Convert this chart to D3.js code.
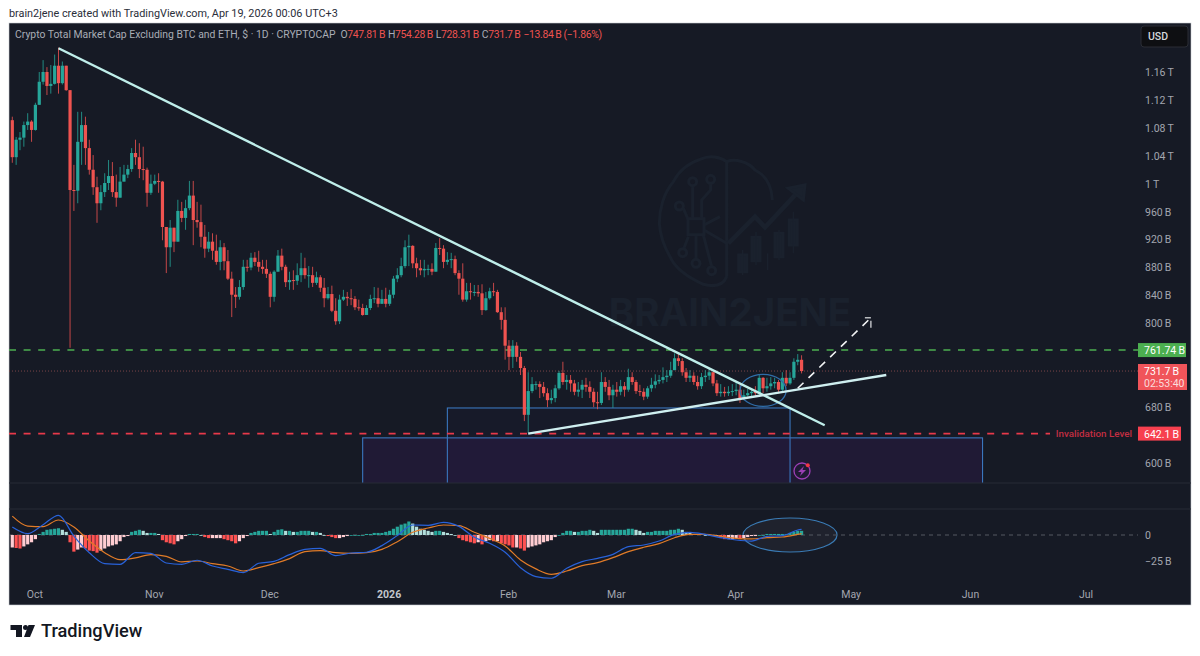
<!DOCTYPE html>
<html>
<head>
<meta charset="utf-8">
<script src="https://cdn.jsdelivr.net/npm/d3@7"></script>
<style>
  html, body { margin: 0; padding: 0; background: #fff; overflow: hidden; }
  text { font-family: Roboto, "Open Sans", sans-serif; }
  .axis path, .axis line { display: none; }
  .axis text { fill: #a3a6af; font-size: 10.5px; font-family: Roboto, sans-serif; }
</style>
</head>
<body>
<div id="chart"></div>
<script>
// daily candles from 25 Sep 2025 to 18 Apr 2026, in billions of USD
var firstDay = "2025-09-25";
var opens = [
 1091,1038,1063,1066,1084,1089,1077,1113,1146,1160,
 1140,1143,1169,1144,1169,1134,991,990,1060,1084,
 1051,1020,995,972,988,1001,1011,988,980,1003,
 1013,1021,1044,1038,1021,1020,987,1000,1004,1003,
 938,909,937,917,961,951,965,983,948,945,
 924,907,917,904,888,909,889,864,841,838,
 852,881,880,894,888,881,878,871,838,874,
 897,881,859,862,861,869,879,869,869,858,
 866,851,836,842,818,803,834,838,836,835,
 823,822,812,822,835,836,828,835,828,841,
 864,869,882,909,911,886,879,876,878,878,
 874,908,907,888,891,892,872,864,834,846,
 845,845,843,819,836,846,845,816,805,768,
 752,768,752,736,669,703,713,713,709,700,
 690,693,707,729,716,719,714,702,705,712,
 709,702,687,686,716,709,697,705,702,710,
 705,723,716,703,702,695,707,712,717,719,
 723,725,733,750,746,730,722,725,716,710,
 723,725,730,714,700,702,700,702,703,705,
 693,697,700,702,700,722,707,710,714,716,
 705,722,714,722,745,747.81];
var highs = [
 1096,1067,1074,1089,1101,1091,1116,1160,1177,1167,
 1170,1185,1195,1175,1169,1134,1027,1103,1103,1096,
 1063,1041,1010,998,1015,1034,1031,1013,1024,1027,
 1027,1051,1063,1058,1053,1023,1013,1013,1015,1004,
 927,948,937,977,974,977,1004,1004,974,970,
 941,931,929,927,919,915,905,874,852,862,
 891,891,901,902,904,891,891,874,876,905,
 907,884,874,876,886,901,894,882,881,874,
 869,865,852,854,836,841,848,845,849,839,
 834,828,826,841,852,851,848,851,848,868,
 879,894,919,927,912,894,891,891,884,886,
 915,922,912,902,901,897,876,886,858,858,
 855,855,856,845,851,858,848,823,823,776,
 776,773,759,739,730,723,717,717,716,707,
 705,712,732,745,726,726,719,716,719,722,
 717,707,702,730,723,719,712,716,719,716,
 735,730,719,712,707,710,722,727,726,737,
 733,745,757,757,750,736,733,730,725,729,
 733,736,730,719,713,709,710,713,716,712,
 705,706,707,710,726,723,722,723,722,719,
 730,733,730,750,756,754.28];
var lows = [
 1030,1027,1048,1053,1077,1060,1076,1113,1142,1127,
 1129,1142,1129,1142,1133,765,961,972,1027,1027,
 1013,984,944,962,981,991,981,967,980,1003,
 1008,1017,1027,1008,1005,967,984,998,987,919,
 872,881,902,917,945,934,962,912,937,909,
 894,902,891,884,876,876,862,809,822,834,
 848,874,876,882,874,871,865,823,831,874,
 876,852,848,848,855,859,864,851,852,855,
 845,823,834,816,798,799,832,825,826,819,
 818,811,812,819,829,823,828,823,825,836,
 859,866,879,882,879,866,869,866,869,869,
 874,898,879,884,879,869,841,831,831,834,
 839,838,812,818,834,839,815,791,748,733,
 736,745,726,660,643,700,705,693,695,680,
 685,687,705,712,705,702,697,695,693,702,
 693,680,677,683,702,690,679,695,697,695,
 702,712,699,696,690,692,702,707,713,714,
 716,722,733,739,725,716,716,712,705,706,
 716,719,710,696,695,695,696,696,697,686,
 690,695,696,696,695,700,702,705,707,700,
 702,710,712,719,740,728.31];
var closes = [
 1038,1063,1066,1084,1089,1077,1113,1146,1160,1140,
 1143,1169,1144,1169,1134,991,990,1060,1084,1051,
 1020,995,972,988,1001,1011,988,980,1003,1013,
 1021,1044,1038,1021,1020,987,1000,1004,1003,938,
 909,937,917,961,951,965,983,948,945,924,
 907,917,904,888,909,889,864,841,838,852,
 881,880,894,888,881,878,871,838,874,897,
 881,859,862,861,869,879,869,869,858,866,
 851,836,842,818,803,834,838,836,835,823,
 822,812,822,835,836,828,835,828,841,864,
 869,882,909,911,886,879,876,878,878,874,
 908,907,888,891,892,872,864,834,846,845,
 845,843,819,836,846,845,816,805,768,752,
 768,752,736,669,703,713,713,709,700,690,
 693,707,729,716,719,714,702,705,712,709,
 702,687,686,716,709,697,705,702,710,705,
 723,716,703,702,695,707,712,717,719,723,
 725,733,750,746,730,722,725,716,710,723,
 725,730,714,700,702,700,702,703,705,693,
 697,700,702,700,722,707,710,714,716,705,
 722,714,722,745,747.81,731.7];

// MACD histogram, one bar per candle
var macdHist = [
 -12,-12.5,-13,-11,-9,-7,-4,1,3,5,
 5.5,6,6.5,5,3,-7,-16,-14,-12,-13,
 -15,-15.5,-17,-15,-13,-11,-10,-9,-6,-2,
 -1,3,4,5,4,2,2,2,1,-5,
 -7,-8,-9,-6,-4,-1,1,1,1,0,
 -2,-3,-3,-3,-3,-4,-5,-6,-8,-6,
 -3,-1,2,3,4,4,4,1,3,5,
 5.5,4,4,3,3,4,4,4,3,3,
 2,0,-1,-2,-3,-3,-2,-1,0,0,
 0,0,1,1,2,2,2,3,4,6,
 8,10,11,13,11,8,6,5,4,3,
 4,4,3,2,1,0,-3,-5,-6,-7,
 -8,-7,-9,-6,-5,-6,-6,-8,-9,-10,
 -12,-12,-13,-15,-12,-11,-10,-9,-7,-6,
 -5,-2,0,2,4,4,3,3,4,4,
 5,4,2,5,5,5,5,5,5,5,
 6,6,5,4,2,3,3,4,4,4,
 4,5,5,6,5,3,2,1,1,1,
 0,0,-1,-1,-3,-4,-4,-4,-3,-4,
 -3,-2,-1,-1,0,0,1,1,1,1,
 1,1,2,3,4,4];

// MACD and signal lines, read every fourth candle and at the last one
var macdAt = d3.range(0, 205, 4).concat(205);
var macdLine = [
 7.7,1.3,9.9,18.9,-1,-17,-27.5,-28.2,-17,-17.6,-26.9,-28.2,-24.3,-29.8,-33,-36.2,-27.2,-25.3,-18.9,
 -13.8,-12.8,-19.8,-17.3,-16.6,-10.2,-0.6,9.6,9.3,12.2,8.3,-2.2,-8,-16.6,-31.4,-40,-41.6,-32,
 -25.6,-22.4,-18.6,-11.2,-9.6,-5.8,0.6,2.6,0.6,-2.6,-4.8,-5.8,-1.3,-0.6,4.8,5.4];
var signalLine = [
 18.2,8.6,8,14.4,7.7,-5.8,-17,-23.7,-22,-18.9,-20.5,-25.9,-25,-27.5,-29.8,-34.6,-31.4,-27.5,-22.7,
 -16,-15,-17,-17.6,-17,-13.8,-6.4,2.6,6.7,9.6,9,2.6,-3.2,-10.6,-24,-32.6,-37.8,-34.6,
 -29.4,-26.6,-21.8,-16,-11.8,-8.3,-2.6,0.6,0.6,-1.3,-3.2,-3.8,-2.6,-1.9,0.6,1.3];

var priceTicks = [600,680,800,840,880,920,960,1000,1040,1080,1120,1160];
var macdTicks = [0,-25];
var monthTicks = ["2025-10-01","2025-11-01","2025-12-01","2026-01-01","2026-02-01","2026-03-01","2026-04-01","2026-05-01","2026-06-01","2026-07-01"];
var monthNames = ["Oct","Nov","Dec","2026","Feb","Mar","Apr","May","Jun","Jul"];

// drawings on the chart, as [date, price]
var trendDown = [["2025-10-07",1194],["2026-04-24",654]];
var trendUp = [["2026-02-06",642],["2026-05-10",726]];
var arrowPath = [["2026-04-17",707],["2026-05-06",808]];
var boxUpper = {from:"2026-01-16", to:"2026-04-15", top:678.8};
var boxLower = {from:"2025-12-25", to:"2026-06-04", top:636};
var resistance = 761.74;
var invalidation = 642.1;
var lastClose = 731.7;

var width = 1200, height = 656;
var left = 9, right = 1138, top_ = 23, priceBottom = 483, macdTop = 509, macdBottom = 583, frameRight = 1191, frameBottom = 605;

var parse = d3.utcParse("%Y-%m-%d");
var x = d3.scaleUtc().domain([parse("2025-10-01"), parse("2026-07-01")]).range([35.4, 1086.5]);
var y = d3.scaleLinear().domain([600, 1160]).range([463, 72]);
var yMacd = d3.scaleLinear().domain([0, -25]).range([535, 561]);

var start = parse(firstDay);
var candles = closes.map(function (c, i) {
	return { date: d3.utcDay.offset(start, i), o: opens[i], h: highs[i], l: lows[i], c: c };
});
function dayX(i) { return x(d3.utcDay.offset(start, i)); }

var svg = d3.select("#chart").append("svg")
	.attr("width", width).attr("height", height)
	.style("display", "block");

var defs = svg.append("defs");
defs.append("clipPath").attr("id", "priceClip").append("rect")
	.attr("x", left).attr("y", top_).attr("width", right - left).attr("height", priceBottom - top_);
defs.append("clipPath").attr("id", "macdClip").append("rect")
	.attr("x", left).attr("y", macdTop).attr("width", right - left).attr("height", macdBottom - macdTop);

svg.append("rect").attr("x", left).attr("y", top_).attr("width", frameRight - left).attr("height", frameBottom - top_)
	.attr("fill", "#161a25").attr("stroke", "#c9ccd2").attr("stroke-width", 0.6);

// header above the chart
svg.append("text").attr("x", 9).attr("y", 17).attr("fill", "#2a2e39").attr("font-size", 10.85)
	.text("brain2jene created with TradingView.com, Apr 19, 2026 00:06 UTC+3");

// watermark logo behind everything
var logoColor = "#1a212d";
var logo = svg.append("g").attr("transform", "translate(620,150) scale(0.3333)")
	.attr("fill", "none").attr("stroke", logoColor).attr("stroke-width", 9);
logo.append("path").attr("d", "M320,380 L320,35 C300,20 270,15 240,28 C205,40 175,65 160,95 C130,130 118,180 118,220 C120,250 130,285 150,320 C165,355 210,385 250,403 C285,412 310,405 320,380 M320,35 C345,25 385,35 405,60 C435,75 455,105 457,150 M218,107 L218,205 M272,100 L272,120 L245,150 L245,205 M190,175 L205,210 M205,260 L190,300 M228,255 L228,328 M250,255 L275,350 M252,225 L300,200 M252,240 L320,280");
logo.selectAll("circle.node").data([[218,95],[272,88],[178,168],[188,308],[228,340],[275,362]]).enter().append("circle")
	.attr("cx", function (d) { return d[0]; }).attr("cy", function (d) { return d[1]; }).attr("r", 12);
logo.append("rect").attr("x", 204).attr("y", 206).attr("width", 48).attr("height", 48);
logo.append("path").attr("stroke-width", 14).attr("d", "M325,280 L405,200 L435,232 L530,130");
logo.append("path").attr("fill", logoColor).attr("d", "M505,115 L555,105 L550,150 Z");
logo.selectAll("rect.bar").data([[368,315,50,300,375],[408,262,70,245,345],[477,250,70,240,330],[520,210,75,185,310]]).enter().append("g")
	.each(function (d) {
		d3.select(this).append("rect").attr("x", d[0] - 12).attr("y", d[1]).attr("width", 24).attr("height", d[2]).attr("fill", logoColor);
		d3.select(this).append("line").attr("x1", d[0]).attr("x2", d[0]).attr("y1", d[3]).attr("y2", d[4]).attr("stroke-width", 4);
	});
logo.append("line").attr("x1", 443).attr("x2", 443).attr("y1", 310).attr("y2", 360).attr("stroke-width", 4);
svg.append("text").attr("x", 730).attr("y", 326).attr("text-anchor", "middle")
	.attr("fill", logoColor).attr("font-size", 38.5).attr("font-weight", 700)
	.style("font-family", "Inter, Roboto, sans-serif").text("BRAIN2JENE");

var price = svg.append("g").attr("clip-path", "url(#priceClip)");

// purple zones, both run on below the bottom of the pane
[boxLower, boxUpper].forEach(function (b, k) {
	price.append("rect")
		.attr("x", x(parse(b.from))).attr("y", y(b.top))
		.attr("width", x(parse(b.to)) - x(parse(b.from))).attr("height", priceBottom + 20 - y(b.top))
		.attr("fill", k == 0 ? "#4a1f78" : "#3a2a70").attr("fill-opacity", k == 0 ? 0.2 : 0.06)
		.attr("stroke", "#3a76bd").attr("stroke-width", 1.1);
});

// horizontal levels
price.append("line").attr("x1", left).attr("x2", right).attr("y1", y(lastClose)).attr("y2", y(lastClose))
	.attr("stroke", "#7a4548").attr("stroke-dasharray", "1 2");
price.append("line").attr("x1", left).attr("x2", right).attr("y1", y(resistance)).attr("y2", y(resistance))
	.attr("stroke", "#4caf50").attr("stroke-width", 1.4).attr("stroke-dasharray", "7 7.6");
price.append("line").attr("x1", left).attr("x2", 1050).attr("y1", y(invalidation)).attr("y2", y(invalidation))
	.attr("stroke", "#e8394a").attr("stroke-width", 1.6).attr("stroke-dasharray", "7 7.6");

function colorOf(d) { return d.c >= d.o ? "#26a69a" : "#ef5350"; }

price.selectAll(".wick").data(candles).enter().append("line")
	.attr("class", "wick")
	.attr("x1", function (d) { return x(d.date); }).attr("x2", function (d) { return x(d.date); })
	.attr("y1", function (d) { return y(d.h); }).attr("y2", function (d) { return y(d.l); })
	.attr("stroke", colorOf).attr("stroke-opacity", 0.8).attr("stroke-width", 1);
price.selectAll(".body").data(candles).enter().append("rect")
	.attr("class", "body")
	.attr("x", function (d) { return x(d.date) - 1.6; }).attr("width", 3.2)
	.attr("y", function (d) { return y(Math.max(d.o, d.c)); })
	.attr("height", function (d) { return Math.max(1, Math.abs(y(d.o) - y(d.c))); })
	.attr("fill", colorOf);

var lineOf = d3.line()
	.x(function (d) { return x(parse(d[0])); })
	.y(function (d) { return y(d[1]); });

// ellipse around the break
price.append("ellipse").attr("cx", x(parse("2026-04-08"))).attr("cy", y(704)).attr("rx", 23).attr("ry", 16)
	.attr("fill", "none").attr("stroke", "#2f6da8").attr("stroke-width", 1.3);

price.append("path").attr("d", lineOf(trendDown)).attr("stroke", "#bfeeea").attr("stroke-width", 2.4).attr("fill", "none");
price.append("path").attr("d", lineOf(trendUp)).attr("stroke", "#cfeff0").attr("stroke-width", 2.4).attr("fill", "none");
price.append("path").attr("d", lineOf(arrowPath)).attr("stroke", "#f2f4f5").attr("stroke-width", 1.6)
	.attr("stroke-dasharray", "8 7").attr("fill", "none");

var tipX = x(parse(arrowPath[1][0])), tipY = y(arrowPath[1][1]);
price.append("path").attr("d", "M" + (tipX - 6) + "," + tipY + " L" + tipX + "," + tipY)
	.attr("stroke", "#c6c8cc").attr("stroke-width", 1.4).attr("fill", "none");
price.append("path").attr("d", "M" + tipX + "," + (tipY + 3) + " L" + tipX + "," + (tipY + 10))
	.attr("stroke", "#c6c8cc").attr("stroke-width", 1.4).attr("fill", "none");

// lightning icon
var bolt = svg.append("g").attr("transform", "translate(802,471)");
bolt.append("circle").attr("r", 8).attr("fill", "none").attr("stroke", "#9c3fb5").attr("stroke-width", 1.3);
bolt.append("path").attr("d", "M2,-5 L-4,1 L-0.5,1 L-2,5 L4,-1 L0.5,-1 Z").attr("fill", "#9c3fb5");
bolt.append("circle").attr("cx", 5.8).attr("cy", -5.8).attr("r", 2).attr("fill", "#f23645");

// pane separators
[priceBottom, macdTop].forEach(function (py) {
	svg.append("line").attr("x1", left).attr("x2", frameRight).attr("y1", py).attr("y2", py)
		.attr("stroke", "#272b36").attr("stroke-width", 1);
});

// MACD pane
var macd = svg.append("g").attr("clip-path", "url(#macdClip)");
macd.append("ellipse").attr("cx", x(parse("2026-04-15"))).attr("cy", yMacd(0)).attr("rx", 47).attr("ry", 17)
	.attr("fill", "#ffffff").attr("fill-opacity", 0.04).attr("stroke", "#3a7bb5").attr("stroke-width", 1.2);
macd.append("line").attr("x1", left).attr("x2", right).attr("y1", yMacd(0)).attr("y2", yMacd(0))
	.attr("stroke", "#555863").attr("stroke-dasharray", "4 4");

function histColor(v, i) {
	var prev = i > 0 ? macdHist[i - 1] : v;
	if (v >= 0) return v >= prev ? "#26a69a" : "#b2dfdb";
	return v < prev ? "#ff5252" : "#ffcdd2";
}
macd.selectAll(".hist").data(macdHist).enter().append("rect")
	.attr("class", "hist")
	.attr("x", function (d, i) { return dayX(i) - 1.6; }).attr("width", 3.2)
	.attr("y", function (d) { return Math.min(yMacd(d), yMacd(0)); })
	.attr("height", function (d) { return Math.max(0.8, Math.abs(yMacd(d) - yMacd(0))); })
	.attr("fill", histColor);

var macdPath = d3.line().curve(d3.curveMonotoneX)
	.x(function (d, k) { return dayX(macdAt[k]); })
	.y(function (d) { return yMacd(d); });
macd.append("path").attr("d", macdPath(signalLine)).attr("fill", "none").attr("stroke", "#e07b28").attr("stroke-width", 1.2);
macd.append("path").attr("d", macdPath(macdLine)).attr("fill", "none").attr("stroke", "#2962d9").attr("stroke-width", 1.2);

// axes
function priceLabel(v) {
	return v >= 1000 ? (v == 1000 ? "1\u2009T" : (v / 1000).toFixed(2) + "\u2009T") : v + "\u2009B";
}
svg.append("g").attr("class", "axis").attr("transform", "translate(1136,0)")
	.call(d3.axisRight(y).tickValues(priceTicks).tickSize(0).tickPadding(9).tickFormat(priceLabel));
svg.append("g").attr("class", "axis").attr("transform", "translate(1136,0)")
	.call(d3.axisRight(yMacd).tickValues(macdTicks).tickSize(0).tickPadding(9)
		.tickFormat(function (v) { return v == 0 ? "0" : "\u221225\u2009B"; }));
var timeAxis = svg.append("g").attr("class", "axis").attr("transform", "translate(-1,586)")
	.call(d3.axisBottom(x).tickValues(monthTicks.map(parse)).tickSize(0).tickPadding(5)
		.tickFormat(function (d, i) { return monthNames[i]; }));
timeAxis.selectAll("text").filter(function (d, i) { return monthNames[i] == "2026"; })
	.attr("font-weight", 700).style("fill", "#c3c6cd");

// chart title and OHLC values
var title = svg.append("text").attr("x", 15).attr("y", 38).attr("font-size", 10.4);
title.append("tspan").attr("fill", "#a9adb6").text("Crypto Total Market Cap Excluding BTC and ETH, $ \u00b7 1D \u00b7 CRYPTOCAP");
var ohlcLabels = [["O","747.81\u2009B"],["H","754.28\u2009B"],["L","728.31\u2009B"],["C","731.7\u2009B"]];
ohlcLabels.forEach(function (t, i) {
	title.append("tspan").attr("fill", "#a9adb6").attr("dx", i == 0 ? 5 : 3).attr("letter-spacing", -0.35).text(t[0]);
	title.append("tspan").attr("fill", "#ef5350").attr("letter-spacing", -0.35).text(t[1]);
});
title.append("tspan").attr("fill", "#ef5350").attr("dx", 3).attr("letter-spacing", -0.35).text("\u221213.84\u2009B (\u22121.86%)");

// USD button
svg.append("rect").attr("x", 1141).attr("y", 26).attr("width", 47).attr("height", 21).attr("rx", 3)
	.attr("fill", "#0e0f12").attr("stroke", "#2a2d35");
svg.append("text").attr("x", 1148).attr("y", 40).attr("fill", "#d6d8dc").attr("font-size", 10.5).attr("font-weight", 500).text("USD");

// price badges
function badge(value, color, text, w) {
	var by = y(value);
	svg.append("rect").attr("x", 1138).attr("y", by - 7).attr("width", w).attr("height", 14).attr("fill", color);
	svg.append("text").attr("x", 1144).attr("y", by + 4).attr("fill", "#fff").attr("font-size", 10.5).text(text);
}
badge(resistance, "#4caf50", "761.74\u2009B", 48);
badge(invalidation, "#f7404f", "642.1\u2009B", 43);
svg.append("rect").attr("x", 1138).attr("y", 364).attr("width", 49).attr("height", 26).attr("fill", "#f0545a");
svg.append("text").attr("x", 1144).attr("y", 375).attr("fill", "#fff").attr("font-size", 10.5).text("731.7\u2009B");
svg.append("text").attr("x", 1144).attr("y", 387).attr("fill", "#fbdcdc").attr("font-size", 10.5).text("02:53:40");
svg.append("text").attr("x", 1132).attr("y", y(invalidation) + 3.5).attr("text-anchor", "end")
	.attr("fill", "#c22e42").attr("font-size", 9.8).attr("font-weight", 500).text("Invalidation Level");

// TradingView footer
var tv = svg.append("g").attr("fill", "#131722");
tv.append("path").attr("d", "M10.5,625 H22 V637 H16 V630 H10.5 Z");
tv.append("circle").attr("cx", 25.5).attr("cy", 627.5).attr("r", 2.5);
tv.append("path").attr("d", "M28.5,625 H35 L30,637 H24 Z");
tv.append("text").attr("x", 41).attr("y", 637).attr("font-size", 18.2).attr("font-weight", 500).text("TradingView");
</script>
</body>
</html>
